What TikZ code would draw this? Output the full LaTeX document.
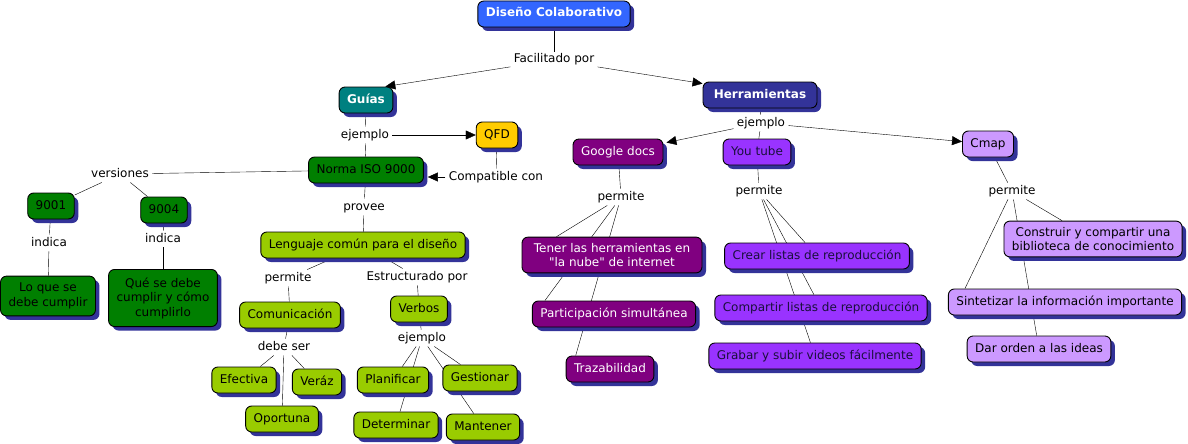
\documentclass[tikz,border=0pt]{standalone}
\usepackage{fontspec}
\setmainfont{DejaVu Sans}[Ligatures=TeXOff]
\usetikzlibrary{shadows,arrows.meta,backgrounds}
\definecolor{cmblue}{HTML}{3366FF}
\definecolor{cmteal}{HTML}{008080}
\definecolor{cmnavy}{HTML}{333399}
\definecolor{cmgold}{HTML}{FFCC00}
\definecolor{cmgreen}{HTML}{007F00}
\definecolor{cmlime}{HTML}{99CC00}
\definecolor{cmplum}{HTML}{800080}
\definecolor{cmviolet}{HTML}{9933FF}
\definecolor{cmlilac}{HTML}{CC99FF}
\definecolor{cmshadow}{HTML}{333399}
\definecolor{cmink}{HTML}{1A0F3C}
\begin{document}
\fontsize{12}{14.5}\selectfont
\begin{tikzpicture}[x=1pt, y=-1pt, line width=0.9pt,
  box/.style={draw=black, rounded corners=6pt, inner xsep=8pt, inner ysep=6pt, minimum height=26pt, align=center, drop shadow={shadow xshift=4pt, shadow yshift=-4pt, opacity=1, fill=cmshadow}},
  concept/.style={box, text height=9pt, text depth=3pt},
  title/.style={concept, text=white, font=\bfseries},
  link/.style={inner xsep=3pt, inner ysep=2pt, text height=9pt, text depth=3pt},
  arr/.style={-{Triangle[length=10pt, width=9pt]}}]
\useasboundingbox (0,0) rectangle (1188,444);
\node[title, fill=cmblue] (CDis) at (554,14) {Diseño Colaborativo};
\node[link] (LFac) at (554,60) {Facilitado por};
\node[title, fill=cmteal] (CGuias) at (366,100) {Guías};
\node[title, fill=cmnavy, minimum width=114pt] (CHerr) at (760,95) {Herramientas};
\node[link] (LGej) at (365,135) {ejemplo};
\node[concept, fill=cmgold] (CQfd) at (497,135) {QFD};
\node[concept, fill=cmgreen] (CNorma) at (366,170) {Norma ISO 9000};
\node[link] (LCompat) at (496,177) {Compatible con};
\node[link] (LVers) at (120,174) {versiones};
\node[concept, fill=cmgreen] (C9001) at (51,206) {9001};
\node[concept, fill=cmgreen] (C9004) at (164,210) {9004};
\node[link] (LInd1) at (49,243) {indica};
\node[link] (LInd2) at (163,239) {indica};
\node[box, fill=cmgreen, inner ysep=7pt] (CLoque) at (48,296) {Lo que se\\debe cumplir};
\node[box, fill=cmgreen, inner ysep=8pt] (CQuese) at (163,298) {Qué se debe\\cumplir y cómo\\cumplirlo};
\node[link] (LProvee) at (364,207) {provee};
\node[concept, fill=cmlime] (CLeng) at (363,245) {Lenguaje común para el diseño};
\node[link] (LLperm) at (288,278) {permite};
\node[link] (LEstr) at (417,277) {Estructurado por};
\node[concept, fill=cmlime] (CComu) at (290,315) {Comunicación};
\node[concept, fill=cmlime] (CVerbos) at (419,309) {Verbos};
\node[link] (LDebe) at (284,347) {debe ser};
\node[concept, fill=cmlime] (CEfec) at (244,380) {Efectiva};
\node[concept, fill=cmlime] (CVeraz) at (317,382) {Veráz};
\node[concept, fill=cmlime] (COport) at (282,419) {Oportuna};
\node[link] (LVej) at (422,338) {ejemplo};
\node[concept, fill=cmlime] (CPlan) at (393,380) {Planificar};
\node[concept, fill=cmlime] (CGest) at (480,378) {Gestionar};
\node[concept, fill=cmlime] (CDeter) at (396,425) {Determinar};
\node[concept, fill=cmlime] (CMant) at (483,427) {Mantener};
\node[link] (LHej) at (761,123) {ejemplo};
\node[concept, fill=cmplum, text=white] (CGdocs) at (618,152) {Google docs};
\node[concept, fill=cmviolet, text=cmink] (CYtube) at (757,152) {You tube};
\node[concept, fill=cmlilac] (CCmap) at (988,144) {Cmap};
\node[link] (LGperm) at (621,197) {permite};
\node[link] (LYperm) at (759,191) {permite};
\node[link] (LCperm) at (1012,191) {permite};
\node[box, fill=cmplum, text=white, minimum width=180pt] (CTener) at (612,255) {Tener las herramientas en\\"la nube" de internet};
\node[concept, fill=cmplum, text=white] (CPart) at (614,314) {Participación simultánea};
\node[concept, fill=cmplum, text=white] (CTraz) at (610,369) {Trazabilidad};
\node[concept, fill=cmviolet, text=cmink] (CCrear) at (817,256) {Crear listas de reproducción};
\node[concept, fill=cmviolet, text=cmink] (CCompar) at (821,308) {Compartir listas de reproducción};
\node[concept, fill=cmviolet, text=cmink] (CGrabar) at (815,356) {Grabar y subir videos fácilmente};
\node[box, fill=cmlilac] (CConstr) at (1093,239) {Construir y compartir una\\biblioteca de conocimiento};
\node[concept, fill=cmlilac] (CSint) at (1065,302) {Sintetizar la información importante};
\node[concept, fill=cmlilac] (CDar) at (1039,349) {Dar orden a las ideas};
\begin{scope}[on background layer]
\draw (CDis) -- (LFac);
\draw[arr] (LFac) -- ([xshift=-8pt]CGuias.north east);
\draw[arr] (LFac) -- ([yshift=-2pt]CHerr.north west);
\draw (CGuias) -- (LGej);
\draw[arr] (LGej) -- (CQfd);
\draw (LGej) -- (CNorma);
\draw (CQfd) -- (LCompat);
\draw[arr] (LCompat) -- ([xshift=4pt]CNorma.east |- LCompat);
\draw (CNorma) -- (LVers);
\draw (LVers) -- (C9001);
\draw (LVers) -- (C9004);
\draw (C9001) -- (LInd1);
\draw (LInd1) -- (CLoque);
\draw (C9004) -- (LInd2);
\draw (LInd2) -- (CQuese);
\draw (CNorma) -- (LProvee);
\draw (LProvee) -- (CLeng);
\draw (CLeng) -- (LLperm);
\draw (LLperm) -- (CComu);
\draw (CLeng) -- (LEstr);
\draw (LEstr) -- (CVerbos);
\draw (CComu) -- (LDebe);
\draw (LDebe) -- (CEfec);
\draw (LDebe) -- (COport);
\draw (LDebe) -- (CVeraz);
\draw (CVerbos) -- (LVej);
\draw (LVej) -- (CPlan);
\draw (LVej) -- (CDeter);
\draw (LVej) -- (CGest);
\draw (LVej) -- (CMant);
\draw (CHerr) -- (LHej);
\draw[arr] (LHej) -- ([xshift=3pt,yshift=-4pt]CGdocs.north east);
\draw (LHej) -- (CYtube);
\draw[arr] (LHej) -- (CCmap);
\draw (CGdocs) -- (LGperm);
\draw (LGperm) -- ([xshift=35pt]CTener.north west);
\draw (LGperm) -- ([xshift=13pt]CPart.north west);
\draw (LGperm) -- ([xshift=10pt]CTraz.north west);
\draw (CYtube) -- (LYperm);
\draw (LYperm) -- (CCrear);
\draw (LYperm) -- (CCompar);
\draw (LYperm) -- (CGrabar);
\draw (CCmap) -- (LCperm);
\draw (LCperm) -- (CConstr);
\draw (LCperm) -- (CDar);
\draw (LCperm) -- ([xshift=17pt]CSint.north west);
\end{scope}
\end{tikzpicture}
\end{document}
